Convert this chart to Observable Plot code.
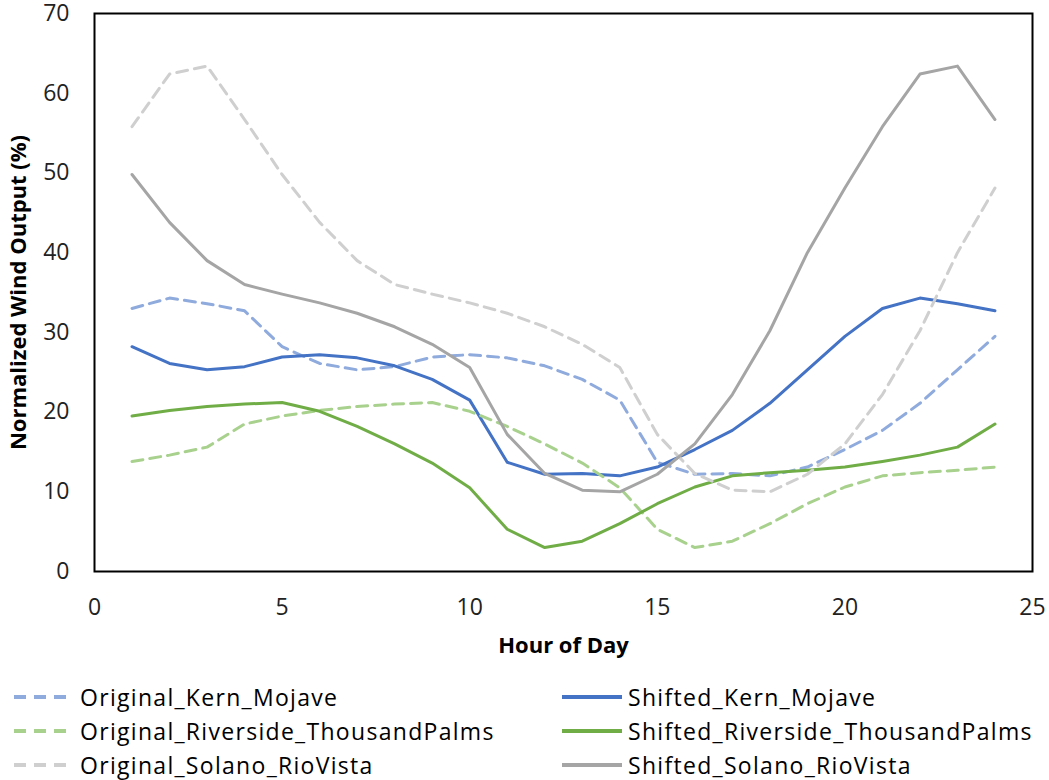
<!DOCTYPE html>
<html>
<head>
<meta charset="utf-8">
<script src="https://cdn.jsdelivr.net/npm/d3@7"></script>
<script src="https://cdn.jsdelivr.net/npm/@observablehq/plot@0.6"></script>
<style>
  body { margin: 0; background: #fff; font-family: "Open Sans", sans-serif; }
  #chart { width: 1049px; }
  .legend { position: relative; width: 1049px; height: 115px; }
  .item { position: absolute; display: flex; align-items: center; height: 34px; font-size: 23px; letter-spacing: 1.3px; color: #000; white-space: nowrap; }
  .item svg { margin-right: 6px; }
</style>
</head>
<body>
<div id="chart"></div>
<div class="legend" id="legend"></div>
<script>
const hours = [1,2,3,4,5,6,7,8,9,10,11,12,13,14,15,16,17,18,19,20,21,22,23,24];

const originalKernMojave = [33.0,34.3,33.6,32.7,28.2,26.1,25.3,25.7,26.9,27.2,26.8,25.8,24.1,21.5,13.7,12.2,12.3,12.0,13.1,15.3,17.7,21.1,25.3,29.5];
const shiftedKernMojave  = [28.2,26.1,25.3,25.7,26.9,27.2,26.8,25.8,24.1,21.5,13.7,12.2,12.3,12.0,13.1,15.3,17.7,21.1,25.3,29.5,33.0,34.3,33.6,32.7];

const originalRiverside = [13.8,14.6,15.6,18.5,19.5,20.2,20.7,21.0,21.2,20.1,18.2,16.0,13.6,10.5,5.3,3.0,3.8,6.0,8.5,10.6,12.0,12.4,12.7,13.1];
const shiftedRiverside  = [19.5,20.2,20.7,21.0,21.2,20.1,18.2,16.0,13.6,10.5,5.3,3.0,3.8,6.0,8.5,10.6,12.0,12.4,12.7,13.1,13.8,14.6,15.6,18.5];

const originalSolano = [55.8,62.4,63.4,56.7,49.8,43.8,39.0,36.0,34.8,33.7,32.4,30.7,28.5,25.6,17.2,12.3,10.2,10.0,12.2,16.0,22.2,30.2,40.0,48.1];
const shiftedSolano  = [49.8,43.8,39.0,36.0,34.8,33.7,32.4,30.7,28.5,25.6,17.2,12.3,10.2,10.0,12.2,16.0,22.2,30.2,40.0,48.1,55.8,62.4,63.4,56.7];

const xTicks = [0,5,10,15,20,25];
const yTicks = [0,10,20,30,40,50,60,70];

const seriesNames = [
  "Original_Kern_Mojave", "Shifted_Kern_Mojave",
  "Original_Riverside_ThousandPalms", "Shifted_Riverside_ThousandPalms",
  "Original_Solano_RioVista", "Shifted_Solano_RioVista"
];
const seriesValues = [originalKernMojave, shiftedKernMojave, originalRiverside, shiftedRiverside, originalSolano, shiftedSolano];
const seriesColors = ["#8FAADC", "#4472C4", "#A9D18E", "#70AD47", "#CFCFCF", "#A5A5A5"];
const seriesDashed = [true, false, true, false, true, false];

const data = [];
seriesNames.forEach((name, i) => {
  hours.forEach((h, j) => data.push({series: name, hour: h, value: seriesValues[i][j]}));
});

const lineMarks = seriesNames.map((name, i) =>
  Plot.line(data.filter(d => d.series === name), {
    x: "hour", y: "value",
    stroke: seriesColors[i],
    strokeWidth: 3,
    strokeDasharray: seriesDashed[i] ? "11,7" : null,
    strokeLinejoin: "round"
  })
);

const chart = Plot.plot({
  width: 1049,
  height: 665,
  marginTop: 13,
  marginBottom: 94,
  marginLeft: 94,
  marginRight: 17,
  style: { fontFamily: "Open Sans, sans-serif", fontSize: "23px", color: "#222", overflow: "visible" },
  x: { domain: [0, 25] },
  y: { domain: [0, 70] },
  marks: [
    Plot.axisX({ ticks: xTicks, tickSize: 0, tickPadding: 27, label: null, fontSize: 23 }),
    Plot.axisY({ ticks: yTicks, tickSize: 0, tickPadding: 25, label: null, fontSize: 23 }),
    ...lineMarks,
    Plot.frame({ stroke: "#000", strokeWidth: 2 }),
    Plot.text(["Hour of Day"], { frameAnchor: "bottom", dy: 74, lineAnchor: "middle", textAnchor: "middle", fontSize: 22, fontWeight: "bold", fill: "#000", text: d => d }),
    Plot.text(["Normalized Wind Output (%)"], { frameAnchor: "left", dx: -76, rotate: -90, textAnchor: "middle", lineAnchor: "middle", fontSize: 22, fontWeight: "bold", fill: "#000", text: d => d })
  ]
});
document.getElementById("chart").appendChild(chart);

// Legend (two columns, three rows)
const legend = document.getElementById("legend");
const colX = [14, 562];
const rowY = [15, 49, 83];
const order = [[0, 1], [2, 3], [4, 5]];
order.forEach((row, r) => {
  row.forEach((si, c) => {
    const div = document.createElement("div");
    div.className = "item";
    div.style.left = colX[c] + "px";
    div.style.top = rowY[r] + "px";
    const dash = seriesDashed[si] ? 'stroke-dasharray="12,8"' : "";
    div.innerHTML = `<svg width="60" height="10"><line x1="0" y1="5" x2="60" y2="5" stroke="${seriesColors[si]}" stroke-width="4" ${dash}/></svg><span>${seriesNames[si]}</span>`;
    legend.appendChild(div);
  });
});
</script>
</body>
</html>
